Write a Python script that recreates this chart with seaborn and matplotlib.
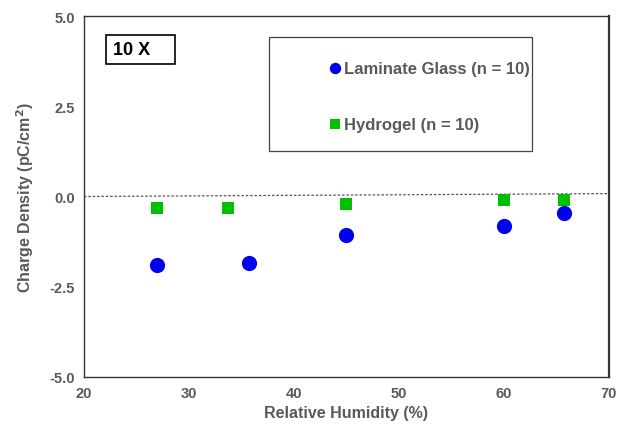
import matplotlib
matplotlib.use('Agg')
import pandas as pd
from matplotlib import pyplot as plt
from matplotlib.patches import Rectangle
import seaborn as sns

# valeurs
glass_rh = [27.0, 35.7, 45.0, 60.0, 65.7]
glass_q = [-1.90, -1.84, -1.07, -0.82, -0.46]
gel_rh = [27.0, 33.7, 45.0, 60.0, 65.7]
gel_q = [-0.32, -0.32, -0.21, -0.10, -0.10]
x_ticks = [20, 30, 40, 50, 60, 70]
y_ticks = [-5.0, -2.5, 0.0, 2.5, 5.0]

glass = pd.DataFrame({'RH': glass_rh, 'Q': glass_q})
gel = pd.DataFrame({'RH': gel_rh, 'Q': gel_q})

sns.set_style('white')
plt.rcParams['font.family'] = ['Liberation Sans', 'DejaVu Sans']
gray = '#595959'

fig = plt.figure(figsize=(6.31, 4.27), dpi=100)
ax = fig.add_axes([0.133, 0.115, 0.832, 0.845])

# hydrogel d'abord, les cercles passent au-dessus
sns.scatterplot(data=gel, x='RH', y='Q', marker='s', color='#00c000', s=85,
                linewidth=0, ax=ax, zorder=3, label='Hydrogel (n = 10)')
sns.scatterplot(data=glass, x='RH', y='Q', marker='o', color='#0000ee', s=120,
                linewidth=0, ax=ax, zorder=4, label='Laminate Glass (n = 10)')

# ligne de zero (legerement inclinee comme sur l'original)
ax.plot([20, 70], [0.0, 0.08], ls=(0, (2, 1.5)), color='#555555', lw=0.9, zorder=2)

ax.set_xlim(20, 70)
ax.set_ylim(-5, 5)
ax.set_xticks(x_ticks)
ax.set_yticks(y_ticks)
ax.set_yticklabels([f'{v:.1f}' for v in y_ticks])
ax.tick_params(axis='both', labelsize=10.5, labelcolor=gray, length=3, color='#888888')
for t in ax.get_xticklabels() + ax.get_yticklabels():
    t.set_fontweight('bold')
ax.set_xlabel('Relative Humidity (%)', fontsize=11.5, fontweight='bold', color=gray, labelpad=4)
ax.set_ylabel('Charge Density (pC/cm$^\\mathbf{2}$)', fontsize=11.5, fontweight='bold', color=gray, labelpad=10)

for s in ax.spines.values():
    s.set_color('#333333')
    s.set_linewidth(1.0)
ax.spines['right'].set_linewidth(1.6)

# legende : cadre dessine a part
ax.add_patch(Rectangle((0.352, 0.626), 0.501, 0.316, transform=ax.transAxes,
                       fill=True, fc='white', ec='#444444', lw=0.9, zorder=5))
handles, labels = ax.get_legend_handles_labels()
leg = ax.legend(handles[::-1], labels[::-1], loc='center left', bbox_to_anchor=(0.463, 0.778),
                frameon=False, fontsize=12, labelspacing=2.45, borderpad=0, handlelength=1.0,
                handletextpad=0.05, markerscale=0.75, borderaxespad=0)
leg.set_zorder(6)
for t in leg.get_texts():
    t.set_color(gray)
    t.set_fontweight('bold')

ax.add_patch(Rectangle((0.042, 0.867), 0.131, 0.080, transform=ax.transAxes,
                       fill=True, fc='white', ec='black', lw=1.2, zorder=5))
ax.text(0.055, 0.907, '10 X', transform=ax.transAxes, fontsize=13, fontweight='bold',
        color='black', va='center', ha='left', zorder=6)

fig.savefig('out.png', dpi=100)
